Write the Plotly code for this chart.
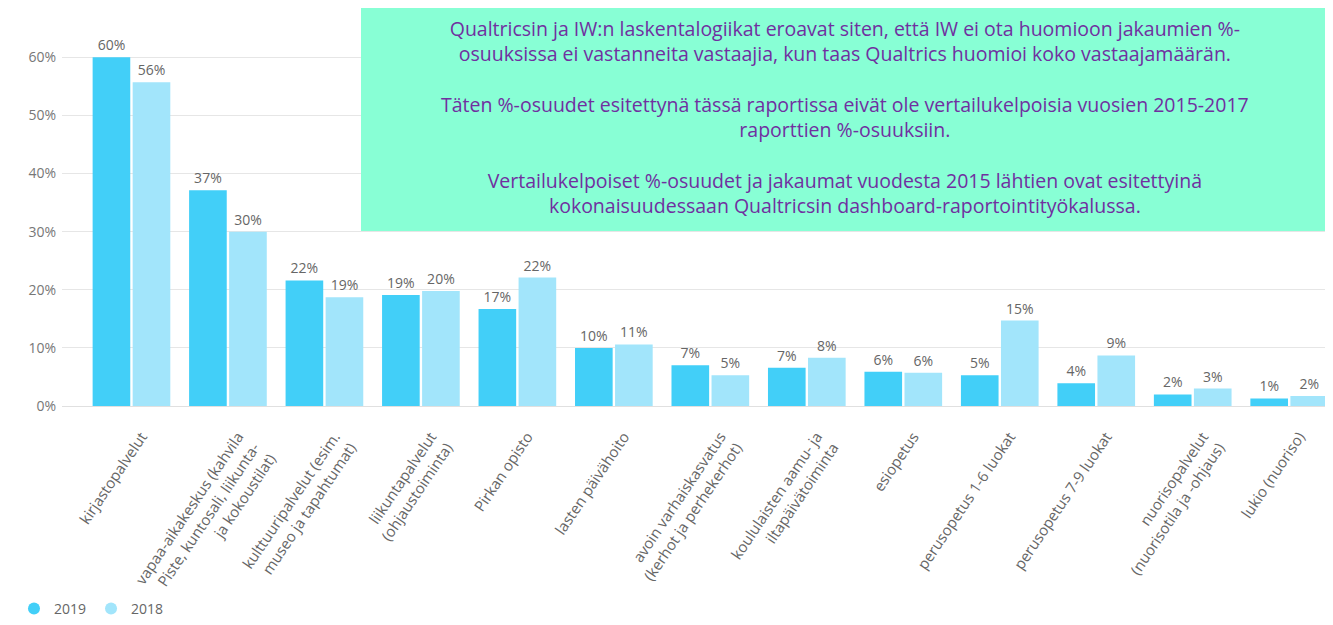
import plotly.graph_objects as go

categories = [
    "kirjastopalvelut",
    "vapaa-aikakeskus (kahvila<br>Piste, kuntosali, liikunta-<br>ja kokoustilat)",
    "kulttuuripalvelut (esim.<br>museo ja tapahtumat)",
    "liikuntapalvelut<br>(ohjaustoiminta)",
    "Pirkan opisto",
    "lasten päivähoito",
    "avoin varhaiskasvatus<br>(kerhot ja perhekerhot)",
    "koululaisten aamu- ja<br>iltapäivätoiminta",
    "esiopetus",
    "perusopetus 1-6 luokat",
    "perusopetus 7-9 luokat",
    "nuorisopalvelut<br>(nuorisotila ja -ohjaus)",
    "lukio (nuoriso)",
]
values_2019 = [60.0, 37.1, 21.6, 19.1, 16.7, 10.0, 7.0, 6.6, 5.9, 5.3, 3.9, 2.0, 1.3]
values_2018 = [55.7, 30.0, 18.7, 19.8, 22.1, 10.6, 5.3, 8.3, 5.7, 14.7, 8.7, 3.0, 1.7]
series_names = ["2019", "2018"]
series_colors = ["#42cff8", "#a2e5fb"]
y_ticks = [0, 10, 20, 30, 40, 50, 60]
y_tick_labels = ["0%", "10%", "20%", "30%", "40%", "50%", "60%"]

note_lines = [
    "Qualtricsin ja IW:n laskentalogiikat eroavat siten, että IW ei ota huomioon jakaumien %-",
    "osuuksissa ei vastanneita vastaajia, kun taas Qualtrics huomioi koko vastaajamäärän.",
    "",
    "Täten %-osuudet esitettynä tässä raportissa eivät ole vertailukelpoisia vuosien 2015-2017",
    "raporttien %-osuuksiin.",
    "",
    "Vertailukelpoiset %-osuudet ja jakaumat vuodesta 2015 lähtien ovat esitettyinä",
    "kokonaisuudessaan Qualtricsin dashboard-raportointityökalussa.",
]

OFF = 8  # page body margin
W, H = 1333 - OFF, 625 - OFF
ML, MR, MT = 62 - OFF, 0, 34 - OFF
MB = H - (410 - OFF)
plot_w = W - ML - MR
plot_h = H - MT - MB
Y_MAX = 64.0
x_idx = list(range(len(categories)))

def px_to_paper_x(px):
    return (px - OFF - ML) / plot_w

def px_to_paper_y(py):
    return (H - MB - (py - OFF)) / plot_h

fig = go.Figure()
for name, vals, col in zip(series_names, [values_2019, values_2018], series_colors):
    fig.add_trace(go.Bar(
        x=x_idx, y=vals, name=name, marker=dict(color=col, line=dict(width=0)),
        texttemplate="%{y:.0f}%", textposition="outside", cliponaxis=False,
        textfont=dict(family="Open Sans", size=14, color="#666666"),
        showlegend=False,
    ))
    fig.add_trace(go.Scatter(
        x=[None], y=[None], mode="markers", name=name,
        marker=dict(symbol="circle", size=12, color=col),
    ))

fig.add_shape(
    type="rect", xref="paper", yref="paper",
    x0=px_to_paper_x(361), x1=px_to_paper_x(1328),
    y0=px_to_paper_y(233), y1=px_to_paper_y(6),
    fillcolor="#88ffd5", line=dict(width=0), layer="above",
)
fig.add_annotation(
    xref="paper", yref="paper", x=px_to_paper_x(845), y=px_to_paper_y(118),
    xanchor="center", yanchor="middle", showarrow=False,
    text="<br>".join(note_lines), align="center",
    font=dict(family="Open Sans", size=19.5, color="#7030a0"),
)

fig.update_layout(
    width=W, height=H, autosize=False,
    margin=dict(l=ML, r=MR, t=MT, b=MB, pad=0),
    paper_bgcolor="white", plot_bgcolor="white",
    barmode="group", bargap=0.17, bargroupgap=0.06,
    font=dict(family="Open Sans", color="#666666"),
    legend=dict(
        orientation="h", x=px_to_paper_x(14), xanchor="left",
        y=px_to_paper_y(615), yanchor="middle",
        font=dict(family="Open Sans", size=14, color="#666666"),
        itemsizing="constant", itemwidth=30,
    ),
)
fig.update_xaxes(
    tickmode="array", tickvals=x_idx, ticktext=categories,
    tickangle=-56, range=[-0.72, 12.454],
    showgrid=False, showline=False, zeroline=False, ticks="",
    ticklabelstandoff=18, ticklabelshift=10,
    tickfont=dict(family="Open Sans", size=15, color="#666666"),
)
fig.update_yaxes(
    range=[0, Y_MAX], tickmode="array", tickvals=y_ticks, ticktext=y_tick_labels,
    showgrid=True, gridcolor="#e6e6e6", gridwidth=1,
    zeroline=True, zerolinecolor="#e0e0e0", zerolinewidth=1,
    showline=False, ticks="", ticklabelstandoff=5,
    tickfont=dict(family="Open Sans", size=14, color="#777777"),
)

fig.write_html("out.html")
